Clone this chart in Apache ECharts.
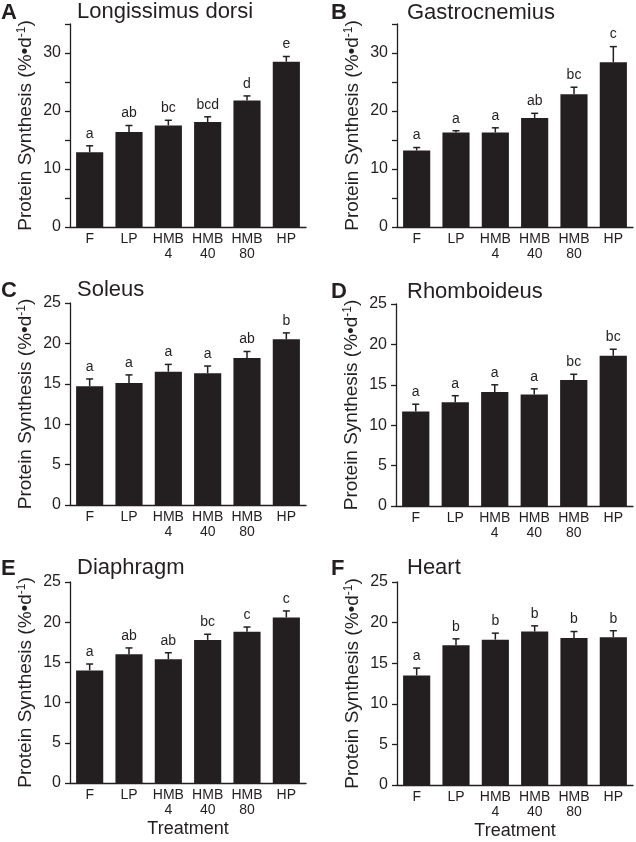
<!DOCTYPE html>
<html>
<head>
<meta charset="utf-8">
<script src="https://cdn.jsdelivr.net/npm/echarts@6/dist/echarts.min.js"></script>
<style>html,body{margin:0;padding:0;background:#fff;}#c{width:636px;height:842px;}</style>
</head>
<body>
<div id="c"></div>
<script>
// ---- data ----
const categories = ['F', 'LP', 'HMB\n4', 'HMB\n40', 'HMB\n80', 'HP'];
const panelLetters = ['A', 'B', 'C', 'D', 'E', 'F'];
const panelTitles = ['Longissimus dorsi', 'Gastrocnemius', 'Soleus', 'Rhomboideus', 'Diaphragm', 'Heart'];

const ldMean = [12.9, 16.4, 17.5, 18.1, 21.8, 28.5];
const ldSem  = [1.1, 1.1, 0.9, 0.9, 0.8, 0.9];
const ldSig  = ['a', 'ab', 'bc', 'bcd', 'd', 'e'];

const gaMean = [13.2, 16.3, 16.3, 18.8, 22.9, 28.4];
const gaSem  = [0.5, 0.3, 0.8, 0.8, 1.2, 2.7];
const gaSig  = ['a', 'a', 'a', 'ab', 'bc', 'c'];

const soMean = [14.7, 15.1, 16.5, 16.3, 18.2, 20.5];
const soSem  = [0.9, 1.0, 0.9, 0.9, 0.8, 0.8];
const soSig  = ['a', 'a', 'a', 'a', 'ab', 'b'];

const rhMean = [11.7, 12.85, 14.1, 13.8, 15.6, 18.6];
const rhSem  = [0.9, 0.8, 0.9, 0.7, 0.7, 0.8];
const rhSig  = ['a', 'a', 'a', 'a', 'bc', 'bc'];

const diMean = [14.0, 16.0, 15.4, 17.8, 18.8, 20.6];
const diSem  = [0.8, 0.8, 0.8, 0.7, 0.6, 0.8];
const diSig  = ['a', 'ab', 'ab', 'bc', 'c', 'c'];

const heMean = [13.5, 17.2, 17.9, 18.9, 18.1, 18.2];
const heSem  = [0.9, 0.8, 0.8, 0.7, 0.8, 0.8];
const heSig  = ['a', 'b', 'b', 'b', 'b', 'b'];

const yMaxes = [35, 35, 25, 25, 25, 25];
const yLabelSteps = [10, 10, 5, 5, 5, 5];

const means = [ldMean, gaMean, soMean, rhMean, diMean, heMean];
const sems = [ldSem, gaSem, soSem, rhSem, diSem, heSem];
const sigs = [ldSig, gaSig, soSig, rhSig, diSig, heSig];

// ---- layout ----
const ink = '#231f20';
const FONT = 'Liberation Sans, Arial, Helvetica, sans-serif';
const grids = [
  {left: 70, top: 24, width: 236, height: 203},
  {left: 397, top: 24, width: 236, height: 203},
  {left: 70, top: 303, width: 236, height: 202},
  {left: 396, top: 304, width: 237, height: 202},
  {left: 70, top: 582, width: 236, height: 201},
  {left: 397, top: 582, width: 236, height: 203}
];
const letterPos = [[1, 2], [331, 2], [1, 280], [331, 281], [1, 558], [331, 558]];
const titlePos = [[77, 1], [407, 2], [77, 279], [407, 281], [77, 557], [407, 557]];

const xAxes = [], yAxes = [], series = [], graphics = [];
for (let i = 0; i < 6; i++) {
  const bottomRow = i >= 4;
  xAxes.push({
    type: 'category', gridIndex: i, data: categories,
    axisLine: {lineStyle: {color: ink, width: 1.3}},
    axisTick: {show: false},
    axisLabel: {color: ink, fontSize: 14, fontFamily: FONT, lineHeight: 15, margin: 5, interval: 0},
    name: bottomRow ? 'Treatment' : '',
    nameLocation: 'middle', nameGap: 37,
    nameTextStyle: {color: ink, fontSize: 18, fontFamily: FONT}
  });
  const step = yLabelSteps[i];
  yAxes.push({
    type: 'value', gridIndex: i, min: 0, max: yMaxes[i], interval: 5,
    splitLine: {show: false},
    axisLine: {show: true, lineStyle: {color: ink, width: 1.3}},
    axisTick: {show: true, inside: false, length: 5, lineStyle: {color: ink, width: 1.3}},
    axisLabel: {color: ink, fontSize: 16, fontFamily: FONT, margin: 9,
      formatter: function (v) { return (v % step === 0) ? String(v) : ''; }},
    name: 'Protein Synthesis (%•d{sup|-1})',
    nameLocation: 'middle', nameGap: 35,
    nameTextStyle: {color: ink, fontSize: 19, fontFamily: FONT,
      rich: {sup: {fontSize: 12, color: ink, fontFamily: FONT, verticalAlign: 'top'}}}
  });
  series.push({
    type: 'bar', xAxisIndex: i, yAxisIndex: i,
    data: means[i], barWidth: '69%',
    itemStyle: {color: ink},
    silent: true, animation: false
  });
  const sig = sigs[i];
  const errData = means[i].map((m, k) => [k, m, +(m + sems[i][k]).toFixed(2)]);
  series.push({
    type: 'custom', xAxisIndex: i, yAxisIndex: i,
    data: errData, animation: false, silent: true,
    renderItem: function (params, api) {
      const x = api.value(0), v = api.value(1), e = api.value(2);
      const b = api.coord([x, v]);
      const t = api.coord([x, e]);
      const hw = 3.5;
      const st = {stroke: ink, lineWidth: 1.5};
      return {
        type: 'group',
        children: [
          {type: 'line', shape: {x1: b[0], y1: b[1], x2: t[0], y2: t[1]}, style: st},
          {type: 'line', shape: {x1: t[0] - hw, y1: t[1], x2: t[0] + hw, y2: t[1]}, style: st},
          {type: 'text', x: t[0], y: t[1] - 5,
            style: {text: sig[params.dataIndex], align: 'center', verticalAlign: 'bottom',
              font: '14px ' + FONT, fill: ink}}
        ]
      };
    }
  });
  graphics.push({type: 'text', left: letterPos[i][0], top: letterPos[i][1],
    style: {text: panelLetters[i], font: 'bold 22px ' + FONT, fill: ink}});
  graphics.push({type: 'text', left: titlePos[i][0], top: titlePos[i][1],
    style: {text: panelTitles[i], font: '22px ' + FONT, fill: ink}});
}

const chart = echarts.init(document.getElementById('c'), null, {renderer: 'canvas'});
chart.setOption({
  backgroundColor: '#fff',
  animation: false,
  grid: grids,
  xAxis: xAxes,
  yAxis: yAxes,
  series: series,
  graphic: graphics
});
</script>
</body>
</html>
